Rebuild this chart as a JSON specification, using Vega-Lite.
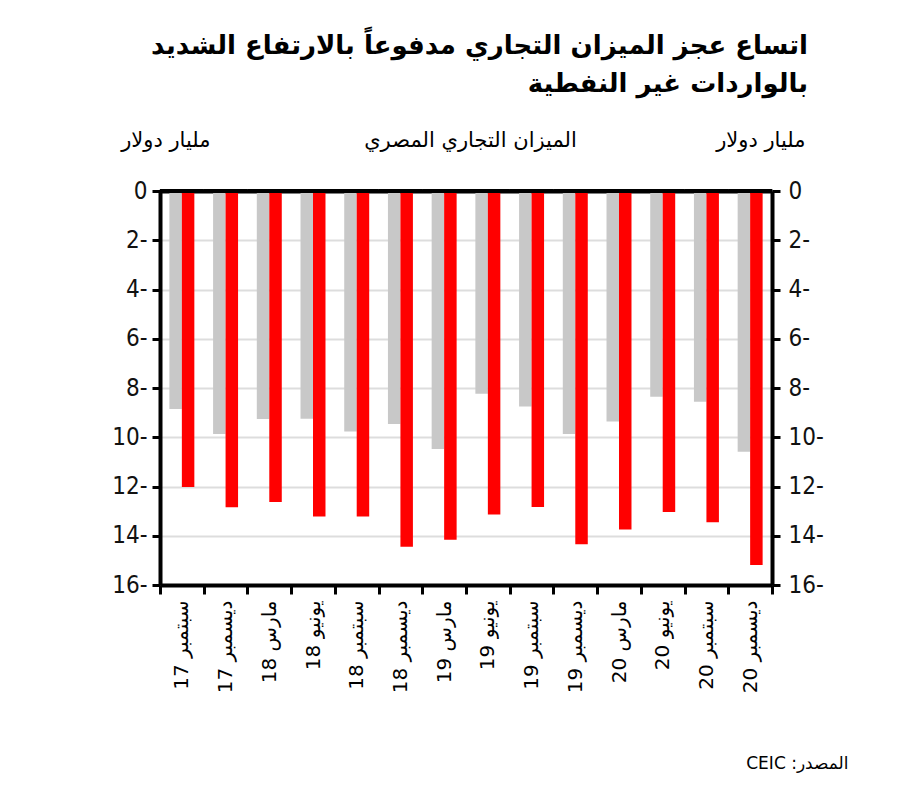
{
  "$schema": "https://vega.github.io/schema/vega-lite/v6.json",
  "autosize": "none",
  "width": 612,
  "height": 394,
  "padding": {"left": 160, "top": 191, "right": 128, "bottom": 216},
  "background": "white",
  "title": {
    "text": ["اتساع عجز الميزان التجاري مدفوعاً بالارتفاع الشديد", "بالواردات غير النفطية"],
    "anchor": "end",
    "frame": "group",
    "font": "DejaVu Sans",
    "fontSize": 26,
    "fontWeight": "bold",
    "lineHeight": 38,
    "color": "#000000",
    "dx": 36,
    "offset": 32
  },
  "datasets": {
    "trade": [
      {"period": "سبتمبر 17", "series": "الإجمالي", "value": -8.85},
      {"period": "سبتمبر 17", "series": "غير النفطي", "value": -12.02},
      {"period": "ديسمبر 17", "series": "الإجمالي", "value": -9.87},
      {"period": "ديسمبر 17", "series": "غير النفطي", "value": -12.84},
      {"period": "مارس 18", "series": "الإجمالي", "value": -9.26},
      {"period": "مارس 18", "series": "غير النفطي", "value": -12.63},
      {"period": "يونيو 18", "series": "الإجمالي", "value": -9.25},
      {"period": "يونيو 18", "series": "غير النفطي", "value": -13.22},
      {"period": "سبتمبر 18", "series": "الإجمالي", "value": -9.77},
      {"period": "سبتمبر 18", "series": "غير النفطي", "value": -13.22},
      {"period": "ديسمبر 18", "series": "الإجمالي", "value": -9.46},
      {"period": "ديسمبر 18", "series": "غير النفطي", "value": -14.45},
      {"period": "مارس 19", "series": "الإجمالي", "value": -10.48},
      {"period": "مارس 19", "series": "غير النفطي", "value": -14.16},
      {"period": "يونيو 19", "series": "الإجمالي", "value": -8.23},
      {"period": "يونيو 19", "series": "غير النفطي", "value": -13.14},
      {"period": "سبتمبر 19", "series": "الإجمالي", "value": -8.75},
      {"period": "سبتمبر 19", "series": "غير النفطي", "value": -12.83},
      {"period": "ديسمبر 19", "series": "الإجمالي", "value": -9.87},
      {"period": "ديسمبر 19", "series": "غير النفطي", "value": -14.35},
      {"period": "مارس 20", "series": "الإجمالي", "value": -9.36},
      {"period": "مارس 20", "series": "غير النفطي", "value": -13.75},
      {"period": "يونيو 20", "series": "الإجمالي", "value": -8.36},
      {"period": "يونيو 20", "series": "غير النفطي", "value": -13.04},
      {"period": "سبتمبر 20", "series": "الإجمالي", "value": -8.56},
      {"period": "سبتمبر 20", "series": "غير النفطي", "value": -13.45},
      {"period": "ديسمبر 20", "series": "الإجمالي", "value": -10.59},
      {"period": "ديسمبر 20", "series": "غير النفطي", "value": -15.19}
    ]
  },
  "data": {"name": "trade"},
  "resolve": {"axis": {"x": "independent", "y": "independent"}},
  "layer": [
    {
      "mark": {"type": "bar"},
      "encoding": {
        "x": {
          "field": "period",
          "type": "nominal",
          "sort": null,
          "scale": {"type": "band", "paddingInner": 0, "paddingOuter": 0},
          "axis": {
            "orient": "bottom",
            "labelAngle": 270,
            "labelFont": "DejaVu Sans",
            "labelFontSize": 20,
            "labelColor": "#000000",
            "labelPadding": 6,
            "tickBand": "extent",
            "tickColor": "#000000",
            "tickWidth": 3,
            "tickSize": 9,
            "domainColor": "#000000",
            "domainWidth": 4,
            "title": "\u202Bالمصدر: CEIC\u202C",
            "titleAngle": 0,
            "titleAlign": "right",
            "titleBaseline": "alphabetic",
            "titleX": 688,
            "titleY": 183,
            "titleFont": "DejaVu Sans",
            "titleFontSize": 17,
            "titleFontWeight": "normal",
            "titleColor": "#000000"
          }
        },
        "xOffset": {
          "field": "series",
          "type": "nominal",
          "sort": ["الإجمالي", "غير النفطي"],
          "scale": {"paddingInner": 0, "paddingOuter": 0.75}
        },
        "y": {
          "field": "value",
          "type": "quantitative",
          "scale": {"domain": [-16, 0], "nice": false, "zero": false},
          "axis": {
            "orient": "left",
            "values": [0, -2, -4, -6, -8, -10, -12, -14, -16],
            "labelExpr": "datum.value == 0 ? '0' : (abs(datum.value) + '-')",
            "labelFont": "DejaVu Sans Condensed",
            "labelFontSize": 24,
            "labelColor": "#111111",
            "labelPadding": 5,
            "tickColor": "#000000",
            "tickWidth": 3,
            "tickSize": 8,
            "domainColor": "#000000",
            "domainWidth": 4,
            "grid": true,
            "gridColor": "#dddddd",
            "gridWidth": 2,
            "title": "مليار دولار",
            "titleAngle": 0,
            "titleAlign": "right",
            "titleBaseline": "alphabetic",
            "titleX": 50,
            "titleY": -45,
            "titleFont": "DejaVu Sans",
            "titleFontSize": 21,
            "titleFontWeight": "normal",
            "titleColor": "#000000"
          }
        },
        "color": {
          "field": "series",
          "type": "nominal",
          "scale": {"domain": ["الإجمالي", "غير النفطي"], "range": ["#c8c8c8", "#ff0000"]},
          "legend": null
        }
      }
    },
    {
      "transform": [{"filter": "datum.series == 'الإجمالي'"}],
      "mark": {"type": "tick", "color": "#000000", "thickness": 4, "size": 44, "opacity": 1},
      "encoding": {
        "x": {
          "field": "period",
          "type": "nominal",
          "sort": null,
          "axis": {
            "orient": "top",
            "labels": false,
            "ticks": false,
            "domainColor": "#000000",
            "domainWidth": 4,
            "title": "الميزان التجاري المصري",
            "titleAngle": 0,
            "titleAlign": "center",
            "titleBaseline": "alphabetic",
            "titleX": 310,
            "titleY": -45,
            "titleFont": "DejaVu Sans",
            "titleFontSize": 21,
            "titleFontWeight": "normal",
            "titleColor": "#000000"
          }
        },
        "y": {
          "datum": 0,
          "type": "quantitative",
          "axis": {
            "orient": "right",
            "values": [0, -2, -4, -6, -8, -10, -12, -14, -16],
            "labelExpr": "datum.value == 0 ? '0' : (abs(datum.value) + '-')",
            "labelFont": "DejaVu Sans Condensed",
            "labelFontSize": 24,
            "labelColor": "#111111",
            "labelPadding": 8,
            "tickColor": "#000000",
            "tickWidth": 3,
            "tickSize": 8,
            "domainColor": "#000000",
            "domainWidth": 4,
            "grid": false,
            "title": "مليار دولار",
            "titleAngle": 0,
            "titleAlign": "right",
            "titleBaseline": "alphabetic",
            "titleX": 33,
            "titleY": -45,
            "titleFont": "DejaVu Sans",
            "titleFontSize": 21,
            "titleFontWeight": "normal",
            "titleColor": "#000000"
          }
        }
      }
    }
  ],
  "config": {
    "view": {"stroke": null}
  }
}
